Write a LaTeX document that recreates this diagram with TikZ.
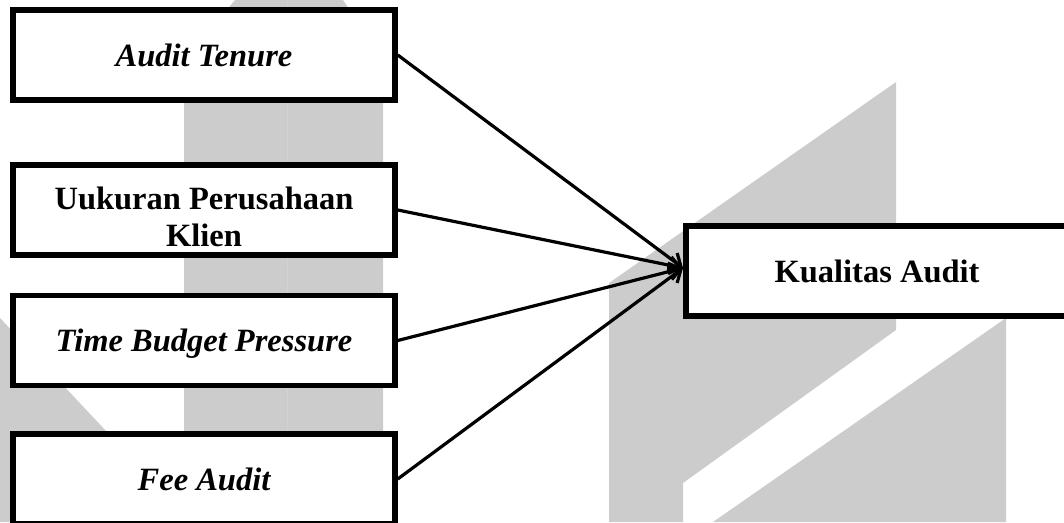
\documentclass[tikz,border=0pt]{standalone}
\usepackage{fontspec}
\setmainfont{Liberation Serif}
\usetikzlibrary{arrows.meta}
\definecolor{wm}{RGB}{204,204,204}
\definecolor{wmline}{RGB}{210,210,210}
\begin{document}
\begin{tikzpicture}[x=1pt,y=-1pt,
  box/.style={draw=black, line width=5.5pt, fill=white, minimum width=382pt,
    minimum height=90pt, inner sep=0pt, align=center},
  lbl/.style={font=\fontsize{32.5}{37}\selectfont\bfseries, align=center, inner sep=0pt},
  one/.style={text height=22pt, text depth=0pt},
  arr/.style={line width=3.2pt, -{Straight Barb[length=11pt,width=17pt]}}]
\useasboundingbox (0,0) rectangle (1064,522);
\clip (0,0) rectangle (1064,522);
% watermark
\fill[wm] (184,522) -- (184,60) -- (235,0) -- (343,0) -- (383,60) -- (383,522) -- cycle;
\draw[wmline, line width=1pt] (287.5,0) -- (287.5,522);
\fill[wm] (0,318) -- (107,432) -- (107,522) -- (0,522) -- cycle;
\fill[wm] (609,283) -- (896,82) -- (896,330) -- (683,483) -- (683,522) -- (609,522) -- cycle;
\fill[wm] (713,522) -- (1006,318) -- (1006,522) -- cycle;
% boxes
\node[box, lbl, one] (b1) at (204,55) {\itshape Audit Tenure};
\node[box] (b2) at (204,210) {};
\node[lbl] (b2t) at (204,216.5) {Uukuran Perusahaan\\Klien};
\node[box, lbl, one] (b3) at (204,340.5) {\itshape Time Budget Pressure};
\node[box, lbl, one] (b4) at (204,479) {\itshape Fee Audit};
\node[box, lbl, one] (k) at (877,271) {Kualitas Audit};
\coordinate (tip) at (683,268);
% connectors
\draw[arr] (b1.east) -- (tip);
\draw[arr] (b2.east) -- (tip);
\draw[arr] (b3.east) -- (tip);
\draw[arr] (b4.east) -- (tip);
\end{tikzpicture}
\end{document}
